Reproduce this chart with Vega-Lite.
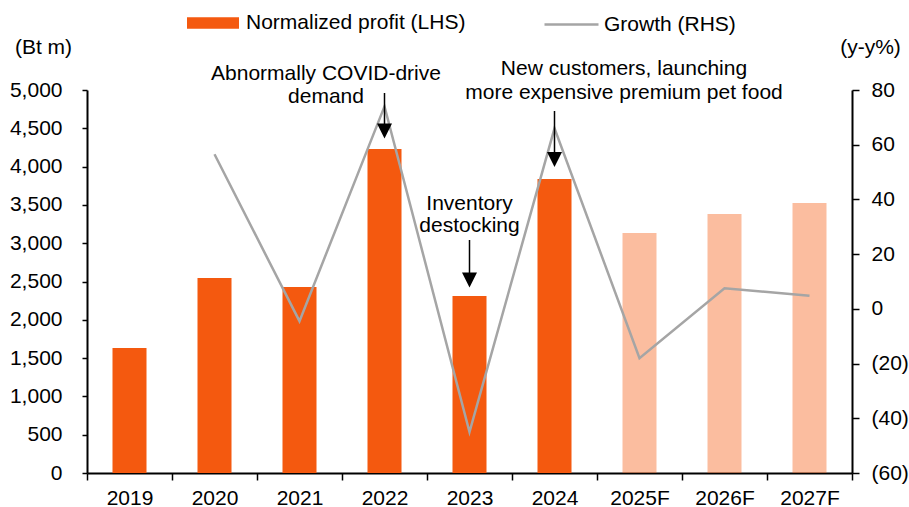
{
  "$schema": "https://vega.github.io/schema/vega-lite/v6.json",
  "width": 765,
  "height": 383,
  "autosize": {"type": "none"},
  "padding": {"left": 87, "top": 90, "right": 57, "bottom": 34},
  "background": "white",
  "config": {
    "font": "Liberation Sans",
    "view": {"stroke": null},
    "axis": {
      "grid": false,
      "labelFontSize": 21,
      "labelColor": "#000",
      "domainColor": "#000",
      "tickColor": "#000",
      "titleFontSize": 21,
      "titleFontWeight": "normal",
      "titleColor": "#000",
      "domainWidth": 2,
      "tickWidth": 1.5
    },
    "legend": {"labelFontSize": 21, "labelColor": "#000", "padding": 0, "labelLimit": 400}
  },
  "data": {
    "values": [
      {"year": "2019", "profit": 1632, "growth": null},
      {"year": "2020", "profit": 2546, "growth": 56.5},
      {"year": "2021", "profit": 2428, "growth": -4.5},
      {"year": "2022", "profit": 4230, "growth": 74},
      {"year": "2023", "profit": 2311, "growth": -45},
      {"year": "2024", "profit": 3838, "growth": 66},
      {"year": "2025F", "profit": 3133, "growth": -18},
      {"year": "2026F", "profit": 3381, "growth": 7.5},
      {"year": "2027F", "profit": 3525, "growth": 4.8}
    ]
  },
  "layer": [
    {
      "mark": {"type": "bar", "width": {"band": 0.4}},
      "encoding": {
        "x": {
          "field": "year", "type": "ordinal",
          "scale": {"domain": ["2019","2020","2021","2022","2023","2024","2025F","2026F","2027F"], "paddingInner": 0, "paddingOuter": 0},
          "axis": {"title": null, "tickBand": "extent", "tickSize": 7, "labelPadding": 24, "labelBaseline": "alphabetic", "labelAngle": 0}
        },
        "y": {
          "field": "profit", "type": "quantitative",
          "scale": {"domain": [0, 5000], "nice": false},
          "axis": {
            "values": [0,500,1000,1500,2000,2500,3000,3500,4000,4500,5000],
            "format": ",d", "tickSize": 5, "labelPadding": 20,
            "title": "(Bt m)", "titleAngle": 0, "titleX": -44, "titleY": -43,
            "titleAlign": "center", "titleBaseline": "middle"
          }
        },
        "color": {
          "datum": "Normalized profit (LHS)", "type": "nominal",
          "scale": {"range": ["#F4590F"]},
          "legend": {
            "orient": "none", "legendX": 100, "legendY": -93, "title": null,
            "symbolType": "M-1,-0.22L1,-0.22L1,0.22L-1,0.22Z", "symbolSize": 2704,
            "labelOffset": 7, "symbolStrokeWidth": 0, "symbolOpacity": 1
          }
        },
        "opacity": {"condition": {"test": "indexof(datum.year, 'F') >= 0", "value": 0.4}, "value": 1}
      }
    },
    {
      "mark": {"type": "line", "strokeWidth": 2.5},
      "encoding": {
        "x": {"field": "year", "type": "ordinal"},
        "y": {
          "field": "growth", "type": "quantitative",
          "scale": {"domain": [-60, 80], "nice": false},
          "axis": {
            "orient": "right",
            "values": [-60,-40,-20,0,20,40,60,80],
            "labelExpr": "datum.value < 0 ? '(' + abs(datum.value) + ')' : '' + datum.value",
            "tickSize": 7, "labelPadding": 12,
            "title": "(y-y%)", "titleAngle": 0, "titleX": 18, "titleY": -43,
            "titleAlign": "center", "titleBaseline": "middle"
          }
        },
        "stroke": {
          "datum": "Growth (RHS)", "type": "nominal",
          "scale": {"range": ["#A5A5A5"]},
          "legend": {
            "orient": "none", "legendX": 456, "legendY": -94, "title": null,
            "symbolType": "stroke", "symbolSize": 2916, "symbolStrokeWidth": 2.5,
            "labelOffset": 4
          }
        }
      }
    },
    {
      "data": {"values": [
        {"year": "2022", "from": 4961, "to": 4465},
        {"year": "2024", "from": 4726, "to": 4093},
        {"year": "2023", "from": 3042, "to": 2520}
      ]},
      "mark": {"type": "rule", "color": "#000", "strokeWidth": 1.5},
      "encoding": {
        "x": {"field": "year", "type": "ordinal"},
        "y": {"field": "from", "type": "quantitative", "scale": {"domain": [0, 5000], "nice": false}, "axis": null},
        "y2": {"field": "to"}
      }
    },
    {
      "data": {"values": [
        {"year": "2022", "to": 4465},
        {"year": "2024", "to": 4093},
        {"year": "2023", "to": 2520}
      ]},
      "mark": {"type": "point", "shape": "M-1,-1L1,-1L0,1Z", "filled": true, "color": "#000", "size": 225, "opacity": 1, "strokeWidth": 0},
      "encoding": {
        "x": {"field": "year", "type": "ordinal"},
        "y": {"field": "to", "type": "quantitative", "scale": {"domain": [0, 5000], "nice": false}, "axis": null}
      }
    },
    {
      "data": {"values": [{"year": "2022", "pos": 5209, "label": "Abnormally COVID-drive\ndemand"}]},
      "mark": {"type": "text", "fontSize": 21, "lineBreak": "\n", "lineHeight": 23, "dx": -58.5, "baseline": "middle", "align": "center", "color": "#000"},
      "encoding": {
        "x": {"field": "year", "type": "ordinal"},
        "y": {"field": "pos", "type": "quantitative", "scale": {"domain": [0, 5000], "nice": false}, "axis": null},
        "text": {"field": "label"}
      }
    },
    {
      "data": {"values": [{"year": "2025F", "pos": 5275, "label": "New customers, launching\nmore expensive premium pet food"}]},
      "mark": {"type": "text", "fontSize": 21, "lineBreak": "\n", "lineHeight": 24, "dx": -15.5, "baseline": "middle", "align": "center", "color": "#000"},
      "encoding": {
        "x": {"field": "year", "type": "ordinal"},
        "y": {"field": "pos", "type": "quantitative", "scale": {"domain": [0, 5000], "nice": false}, "axis": null},
        "text": {"field": "label"}
      }
    },
    {
      "data": {"values": [{"year": "2023", "pos": 3512, "label": "Inventory\ndestocking"}]},
      "mark": {"type": "text", "fontSize": 21, "lineBreak": "\n", "lineHeight": 22, "baseline": "middle", "align": "center", "color": "#000"},
      "encoding": {
        "x": {"field": "year", "type": "ordinal"},
        "y": {"field": "pos", "type": "quantitative", "scale": {"domain": [0, 5000], "nice": false}, "axis": null},
        "text": {"field": "label"}
      }
    }
  ],
  "resolve": {"scale": {"y": "independent"}}
}
